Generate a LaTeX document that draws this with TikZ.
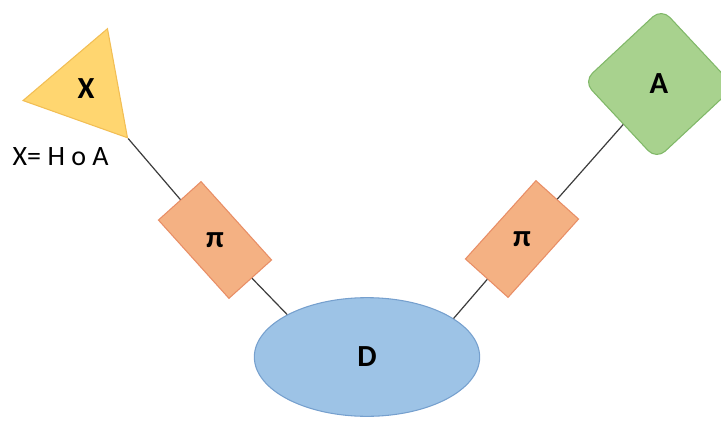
\documentclass[tikz,border=0pt]{standalone}
\usepackage{fontspec}
\setmainfont{Carlito}
\usetikzlibrary{shapes.geometric}

\definecolor{xfill}{RGB}{255,214,112}
\definecolor{xdraw}{RGB}{242,190,84}
\definecolor{afill}{RGB}{168,210,142}
\definecolor{adraw}{RGB}{128,184,104}
\definecolor{pifill}{RGB}{244,177,131}
\definecolor{pidraw}{RGB}{232,142,102}
\definecolor{dfill}{RGB}{157,195,230}
\definecolor{ddraw}{RGB}{118,160,206}
\definecolor{linkgray}{RGB}{60,60,60}

\begin{document}
\begin{tikzpicture}[x=0.75pt, y=-0.75pt,
        lbl/.style={font=\fontsize{23}{25}\selectfont\bfseries},
        pibox/.style={rectangle, draw=pidraw, fill=pifill, line width=0.8pt,
            minimum width=79pt, minimum height=43pt, inner sep=0pt, lbl},
        link/.style={draw=linkgray, line width=0.9pt}]
        \useasboundingbox (0,0) rectangle (721,421);

        \node[regular polygon, regular polygon sides=3, shape border rotate=100.4,
            minimum size=96pt, inner sep=0pt, draw=xdraw, fill=xfill, line width=0.8pt, lbl] (X) at (86,89) {X};
        \node[anchor=west, font=\fontsize{21}{23}\selectfont] (eq) at (8,157) {X= H o A};

        \node[rectangle, rounded corners=9pt, rotate=43, minimum size=80pt, inner sep=0pt,
            draw=adraw, fill=afill, line width=0.8pt, lbl] (A) at (659,84) {\rotatebox{-43}{A}};

        \node[pibox, rotate=-48] (pi1) at (215,240) {\rotatebox{48}{π}};
        \node[pibox, rotate=48] (pi2) at (522,239) {\rotatebox{-48}{π}};

        \node[ellipse, minimum width=169pt, minimum height=89pt, inner sep=0pt,
            draw=ddraw, fill=dfill, line width=0.8pt, lbl] (D) at (367,357) {D};

        \draw[link] (X.corner 2) -- (pi1);
        \draw[link] (pi1) -- (D.152);
        \draw[link] (A) -- (pi2);
        \draw[link] (pi2) -- (D.24);
    \end{tikzpicture}
\end{document}
